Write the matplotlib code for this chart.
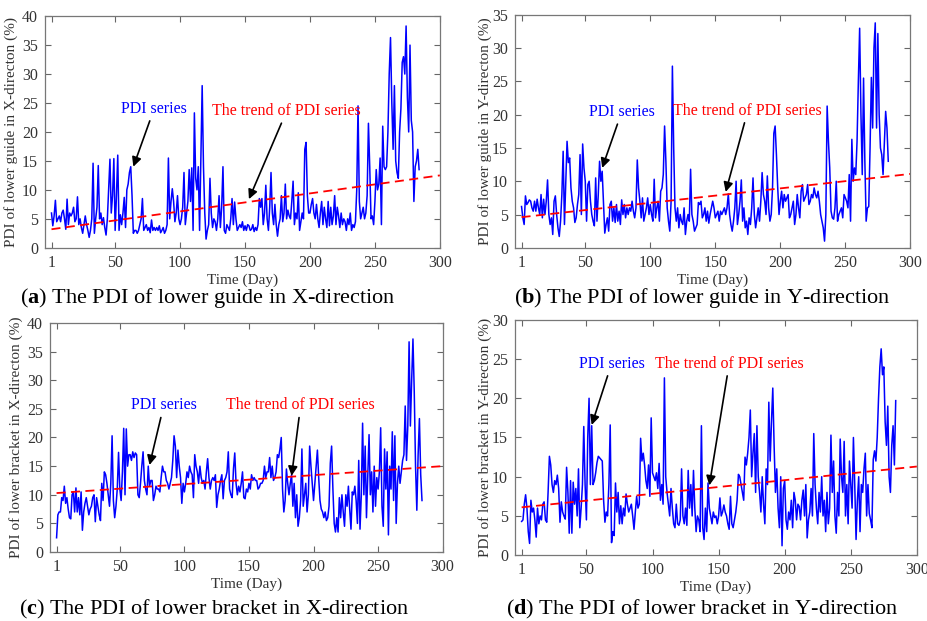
import matplotlib
matplotlib.use("Agg")
import matplotlib.pyplot as plt
import numpy as np

plt.rcParams['font.family'] = ['Liberation Serif', 'DejaVu Serif']
plt.rcParams['mathtext.fontset'] = 'custom'
plt.rcParams['mathtext.rm'] = 'Liberation Serif'
plt.rcParams['mathtext.bf'] = 'Liberation Serif:bold'

# PDI series, one value per day
pdi_guide_x = [
    6.0, 3.8, 5.5, 8.2, 4.5, 5.0, 5.5, 4.5, 6.0, 6.5, 5.0, 3.2, 8.4, 4.0, 6.0, 5.5, 6.0, 7.0, 4.5, 5.0,
    8.8, 4.0, 5.0, 3.5, 2.5, 4.0, 5.5, 4.0, 3.0, 1.8, 3.0, 5.0, 14.6, 2.5, 5.0, 7.0, 14.2, 5.0, 6.0, 4.0,
    5.2, 3.5, 2.2, 5.0, 10.0, 15.3, 6.0, 9.0, 15.4, 3.0, 9.0, 16.0, 3.0, 5.7, 4.0, 6.0, 8.7, 3.5, 10.0, 11.0,
    13.0, 14.0, 9.0, 2.5, 3.0, 3.0, 2.5, 3.0, 4.0, 5.0, 8.5, 3.0, 3.5, 4.0, 3.0, 3.5, 2.6, 4.8, 3.0, 3.5,
    3.0, 3.5, 3.0, 3.8, 2.6, 3.0, 3.5, 2.5, 3.0, 4.0, 15.5, 5.0, 8.0, 10.2, 8.0, 4.5, 6.0, 9.0, 5.0, 4.0,
    5.0, 7.0, 13.0, 4.0, 6.0, 8.0, 13.5, 8.0, 13.8, 3.0, 23.3, 12.0, 10.0, 14.0, 3.0, 15.0, 28.0, 14.0, 6.0, 1.5,
    3.0, 4.0, 12.0, 6.0, 3.5, 5.0, 4.5, 3.0, 5.0, 9.0, 3.5, 7.0, 14.0, 3.0, 2.5, 4.0, 3.5, 3.0, 5.0, 8.5,
    4.0, 7.9, 5.0, 3.0, 3.5, 4.0, 3.5, 4.5, 3.0, 3.8, 3.0, 4.0, 3.8, 3.0, 3.2, 4.0, 2.8, 3.5, 3.0, 4.0,
    8.5, 7.0, 8.5, 4.0, 6.0, 10.8, 5.0, 3.0, 7.0, 13.0, 6.0, 4.0, 7.5, 4.0, 2.0, 4.0, 5.0, 9.0, 4.5, 6.0,
    11.0, 5.0, 6.5, 5.5, 5.0, 8.0, 11.5, 4.0, 6.0, 5.0, 9.5, 3.0, 4.5, 6.0, 5.0, 17.0, 18.2, 9.0, 6.0, 6.0,
    7.5, 8.5, 6.0, 5.0, 7.5, 5.0, 3.5, 6.0, 8.0, 4.0, 7.0, 5.0, 3.5, 8.0, 3.8, 7.0, 4.0, 5.5, 9.0, 4.0,
    7.0, 5.5, 3.5, 6.0, 4.0, 5.0, 4.5, 3.0, 5.0, 4.0, 6.0, 3.0, 4.0, 3.5, 4.5, 10.0, 24.5, 8.0, 5.0, 6.0,
    7.0, 5.0, 6.0, 9.0, 21.5, 14.0, 5.0, 5.5, 4.0, 8.0, 13.5, 10.0, 11.0, 15.5, 4.0, 21.0, 14.0, 13.5, 14.0, 20.0,
    30.0, 36.3, 25.0, 17.0, 28.0, 15.0, 13.0, 12.0, 20.0, 24.0, 32.0, 33.0, 30.0, 38.3, 26.0, 20.0, 35.0, 22.0, 20.0, 8.0,
    14.0, 15.0, 17.0, 13.5,
]
pdi_guide_y = [
    6.2, 4.5, 3.5, 7.8, 6.5, 6.8, 7.2, 7.0, 6.0, 5.5, 7.0, 5.5, 7.3, 6.0, 5.0, 8.0, 4.5, 7.3, 5.0, 7.0,
    10.2, 5.0, 3.5, 4.5, 2.0, 7.0, 7.8, 5.0, 3.0, 1.7, 4.0, 8.0, 14.5, 3.5, 10.0, 16.0, 12.8, 13.5, 9.0, 7.0,
    6.0, 3.8, 4.5, 6.5, 8.0, 14.0, 5.0, 15.6, 12.0, 10.0, 4.0, 9.5, 10.0, 7.0, 5.0, 4.0, 3.3, 10.5, 4.0, 8.0,
    13.0, 10.0, 11.5, 7.0, 2.2, 3.5, 4.5, 2.5, 6.5, 7.0, 4.0, 6.0, 3.8, 6.5, 4.0, 5.5, 3.5, 7.2, 5.0, 6.5,
    4.5, 6.0, 5.0, 6.0, 5.5, 7.0, 5.5, 4.5, 6.0, 13.2, 9.0, 7.0, 4.5, 7.5, 4.0, 5.0, 6.0, 7.5, 5.0, 6.5,
    5.0, 4.0, 10.3, 4.5, 6.0, 7.0, 4.0, 8.5, 9.0, 11.0, 18.3, 13.0, 6.0, 4.0, 2.5, 7.0, 27.3, 15.0, 6.0, 4.0,
    6.0, 3.0, 5.0, 4.0, 3.5, 6.0, 2.0, 4.0, 5.0, 4.0, 11.8, 5.0, 4.0, 2.5, 3.0, 3.5, 6.8, 6.5, 7.0, 4.5,
    5.0, 6.0, 4.0, 5.5, 3.7, 5.0, 6.0, 7.0, 6.0, 4.5, 5.0, 5.5, 4.0, 5.5, 5.0, 5.5, 6.0, 5.0, 6.0, 8.1,
    5.0, 3.5, 2.5, 4.0, 6.0, 10.0, 3.5, 5.0, 7.0, 10.2, 4.0, 6.0, 3.0, 4.0, 2.0, 4.5, 3.5, 6.0, 10.5, 5.0,
    3.0, 4.5, 6.0, 4.0, 7.0, 11.3, 8.0, 7.0, 5.0, 10.8, 6.0, 4.0, 5.0, 9.0, 17.2, 18.3, 14.0, 9.0, 5.0, 7.0,
    8.5, 6.0, 8.0, 7.0, 7.5, 8.0, 4.5, 5.0, 6.0, 7.0, 3.5, 5.0, 8.0, 6.0, 4.5, 8.5, 9.5, 7.0, 7.5, 8.0,
    9.5, 6.5, 7.0, 8.0, 7.5, 9.0, 8.0, 7.5, 8.5, 7.0, 5.0, 4.0, 3.0, 1.0, 5.0, 21.3, 16.0, 12.0, 5.5, 4.5,
    4.3, 6.0, 10.0, 4.0, 5.0, 5.5, 6.0, 4.5, 8.0, 7.5, 7.0, 6.0, 11.0, 4.0, 16.3, 10.0, 12.0, 11.0, 16.0, 25.0,
    33.0, 20.0, 11.0, 25.5, 13.0, 4.0, 6.0, 6.2, 15.0, 25.6, 18.0, 30.0, 33.8, 18.0, 32.2, 20.0, 15.0, 14.0, 11.0, 15.7,
    20.5, 18.0, 13.0,
]
pdi_bracket_x = [
    2.5, 6.5, 7.0, 7.0, 9.5, 9.0, 11.5, 8.5, 9.5, 7.5, 6.0, 5.8, 10.0, 10.5, 7.0, 11.2, 7.0, 9.5, 6.5, 10.5,
    3.8, 7.0, 8.5, 9.5, 8.0, 6.5, 7.5, 8.0, 9.5, 10.0, 5.3, 9.5, 8.0, 6.5, 5.5, 12.0, 9.0, 14.0, 13.5, 12.0,
    10.0, 8.0, 12.0, 20.3, 9.0, 6.0, 8.0, 11.0, 17.4, 11.0, 9.0, 14.0, 21.6, 10.0, 21.5, 15.0, 17.0, 17.0, 16.0, 17.5,
    16.5, 17.3, 17.0, 10.0, 9.5, 12.0, 15.0, 17.5, 12.5, 11.0, 10.0, 15.0, 11.5, 12.5, 12.5, 9.0, 10.0, 11.5, 11.0, 11.0,
    10.5, 13.0, 15.0, 14.0, 14.0, 12.5, 12.0, 11.0, 12.0, 13.0, 16.0, 20.3, 18.5, 13.0, 17.8, 15.0, 13.0, 8.5, 12.0, 10.5,
    12.0, 14.0, 13.0, 15.0, 14.0, 13.5, 9.5, 17.0, 15.0, 14.0, 12.0, 15.0, 13.0, 12.0, 12.5, 11.0, 14.0, 16.3, 13.0, 11.0,
    12.5, 13.0, 12.5, 13.5, 7.8, 10.0, 11.0, 12.5, 13.5, 9.3, 12.5, 13.0, 14.0, 17.5, 11.0, 10.0, 9.5, 14.5, 17.3, 12.0,
    10.0, 11.5, 10.5, 12.0, 14.0, 9.5, 9.3, 11.0, 10.5, 12.0, 11.0, 13.5, 12.5, 13.0, 12.5, 12.5, 11.0, 11.3, 12.0, 12.0,
    12.5, 15.0, 13.0, 14.0, 14.0, 16.5, 13.0, 15.0, 12.5, 13.0, 14.0, 17.0, 16.5, 18.0, 20.0, 11.0, 7.0, 9.0, 14.5, 12.0,
    10.0, 12.0, 13.5, 8.0, 12.0, 6.0, 10.0, 4.5, 6.0, 9.0, 18.0, 8.0, 10.0, 12.0, 7.0, 10.0, 18.5, 15.0, 12.0, 9.0,
    12.0, 15.0, 17.8, 13.0, 9.0, 7.5, 7.0, 6.0, 7.0, 5.5, 6.0, 8.0, 15.5, 18.5, 11.0, 5.0, 3.5, 6.0, 3.5, 9.5,
    6.0, 10.0, 7.0, 4.5, 10.0, 8.0, 11.5, 7.5, 4.0, 10.5, 10.0, 11.5, 9.0, 5.0, 16.0, 4.0, 10.0, 22.5, 10.0, 18.5,
    6.0, 13.0, 20.5, 10.0, 14.0, 7.0, 15.0, 8.0, 13.0, 11.0, 14.0, 21.7, 8.0, 4.5, 18.0, 11.0, 17.5, 3.0, 15.0, 11.0,
    21.0, 9.0, 20.3, 5.0, 12.0, 15.0, 12.0, 14.0, 16.0, 17.0, 25.5, 16.0, 22.0, 36.7, 22.0, 30.0, 37.2, 28.0, 15.0, 7.3,
    17.0, 23.3, 13.5, 9.0,
]
pdi_bracket_y = [
    4.3, 4.5, 6.5, 7.7, 6.0, 3.0, 1.5, 7.0, 5.5, 6.0, 4.5, 2.3, 6.0, 4.0, 5.0, 4.5, 6.5, 6.8, 4.5, 4.2,
    8.0, 12.6, 11.5, 9.0, 8.0, 9.5, 9.0, 10.2, 8.5, 4.2, 6.8, 5.5, 5.0, 4.6, 11.2, 8.0, 2.8, 9.5, 2.8, 9.3,
    6.5, 8.5, 5.0, 11.0, 3.5, 6.0, 9.0, 16.4, 9.0, 4.5, 15.0, 20.0, 9.0, 16.5, 9.0, 9.5, 10.5, 11.8, 12.6, 12.4,
    12.2, 12.0, 7.0, 4.2, 5.5, 5.0, 9.0, 16.6, 1.6, 3.0, 2.5, 9.2, 5.5, 8.0, 4.0, 6.3, 4.0, 6.0, 5.0, 7.8,
    6.5, 5.5, 6.0, 6.5, 5.0, 3.3, 5.5, 7.5, 6.0, 6.5, 14.9, 12.0, 13.0, 11.5, 9.5, 8.5, 11.5, 7.5, 17.5, 10.5,
    10.0, 9.5, 10.5, 8.5, 11.7, 7.0, 9.0, 6.5, 22.6, 10.0, 8.0, 6.5, 5.0, 8.5, 6.0, 4.0, 3.5, 6.5, 4.0, 3.8,
    4.5, 11.0, 5.0, 4.0, 6.0, 3.8, 10.8, 6.0, 9.0, 5.0, 10.8, 6.0, 3.0, 5.0, 4.5, 3.0, 16.5, 3.5, 2.0, 6.0,
    3.0, 9.2, 6.0, 5.0, 4.0, 5.5, 4.8, 5.0, 4.0, 5.0, 7.3, 5.0, 5.5, 6.4, 5.5, 5.0, 4.0, 3.3, 7.5, 4.0,
    3.5, 4.5, 5.5, 7.0, 10.3, 10.0, 9.0, 8.0, 7.0, 12.5, 11.5, 13.0, 15.0, 18.5, 10.0, 13.0, 15.5, 8.0, 16.5, 10.0,
    8.0, 5.5, 10.0, 6.5, 4.0, 11.0, 9.0, 19.5, 12.0, 17.0, 21.3, 14.0, 8.0, 11.0, 6.0, 3.5, 10.0, 1.2, 8.5, 9.5,
    4.5, 3.3, 5.5, 4.5, 7.0, 3.5, 8.0, 7.0, 4.5, 6.5, 6.2, 4.5, 7.0, 8.3, 5.0, 9.0, 2.2, 4.5, 5.5, 8.5,
    5.0, 15.5, 9.0, 6.0, 4.0, 8.0, 5.5, 10.0, 5.0, 7.0, 3.0, 8.0, 4.0, 6.0, 15.3, 8.0, 12.0, 5.0, 2.8, 8.0,
    5.0, 14.8, 10.0, 8.0, 14.5, 5.0, 9.0, 4.0, 12.0, 9.0, 6.0, 15.0, 9.0, 2.0, 7.0, 10.0, 3.0, 9.0, 8.0, 11.0,
    13.0, 5.0, 9.0, 5.3, 4.5, 3.5, 12.2, 13.3, 12.0, 15.0, 20.0, 24.0, 26.3, 23.0, 24.0, 17.0, 14.0, 19.0, 10.0, 8.0,
    14.0, 16.5, 11.5, 19.7,
]

# fitted trend lines: value at day 1 and day 300
trend_days = [1, 300]
trend_guide_x = [3.2, 12.5]
trend_guide_y = [4.6, 11.1]
trend_bracket_x = [10.3, 15.0]
trend_bracket_y = [6.1, 11.3]

panels = [
    dict(series=pdi_guide_x, trend=trend_guide_x, ymax=40,
         ylabel="PDI of lower guide in X-directon (%)",
         caption=r"($\mathbf{a}$) The PDI of lower guide in X-direction",
         pdi_txt=(80, 24.0), pdi_tip=(64, 14.0),
         tr_txt=(182, 23.6), tr_tip=(153, 8.4),
         rect=[0.0485, 0.601, 0.4255, 0.373], ylab_x=-0.068, cap=(0.224, 0.520)),
    dict(series=pdi_guide_y, trend=trend_guide_y, ymax=35,
         ylabel="PDI of lower guide in Y-directon (%)",
         caption=r"($\mathbf{b}$) The PDI of lower guide in Y-direction",
         pdi_txt=(78, 20.4), pdi_tip=(63, 12.0),
         tr_txt=(175, 20.6), tr_tip=(158, 8.4),
         rect=[0.555, 0.601, 0.426, 0.375], ylab_x=-0.058, cap=(0.757, 0.520)),
    dict(series=pdi_bracket_x, trend=trend_bracket_x, ymax=40,
         ylabel="PDI of lower bracket in X-directon (%)",
         caption=r"($\mathbf{c}$) The PDI of lower bracket in X-direction",
         pdi_txt=(84, 25.6), pdi_tip=(73, 15.2),
         tr_txt=(190, 25.6), tr_tip=(183, 13.3),
         rect=[0.054, 0.111, 0.423, 0.369], ylab_x=-0.069, cap=(0.231, 0.019)),
    dict(series=pdi_bracket_y, trend=trend_bracket_y, ymax=30,
         ylabel="PDI of lower bracket in Y-directon (%)",
         caption=r"($\mathbf{d}$) The PDI of lower bracket in Y-direction",
         pdi_txt=(69, 24.4), pdi_tip=(54, 16.6),
         tr_txt=(158, 24.4), tr_tip=(143, 8.9),
         rect=[0.555, 0.106, 0.433, 0.379], ylab_x=-0.057, cap=(0.757, 0.019)),
]

fig = plt.figure(figsize=(9.28, 6.21), dpi=100)
txt_col = '#333333'

for p in panels:
    ax = fig.add_axes(p['rect'])
    days = np.arange(1, len(p['series']) + 1)
    ax.plot(days, p['series'], color='#0000ff', lw=1.1)
    ax.plot(trend_days, p['trend'], color='#ff0000', lw=1.3, ls=(0, (5, 3)))
    ax.set_xlim(-4, 300)
    ax.set_ylim(0, p['ymax'])
    ax.set_xticks([1, 50, 100, 150, 200, 250, 300])
    ax.set_yticks(np.arange(0, p['ymax'] + 1, 5))
    ax.tick_params(direction='in', top=True, right=True, length=4, width=0.8,
                   labelsize=11.5, colors=txt_col, color='#666666', pad=5)
    for s in ax.spines.values():
        s.set_color('#777777')
        s.set_linewidth(0.9)
    ax.set_xlabel("Time (Day)", fontsize=11, color=txt_col, labelpad=2)
    ax.set_ylabel(p['ylabel'], fontsize=11, color=txt_col)
    ax.yaxis.set_label_coords(p['ylab_x'], 0.5)

    ax.annotate("PDI series", xy=p['pdi_tip'], xytext=p['pdi_txt'],
                ha='center', va='center', fontsize=11.5, color='#0000ff',
                arrowprops=dict(arrowstyle='-|>', color='black', lw=1.2,
                                mutation_scale=14, shrinkA=1, shrinkB=0))
    ax.annotate("The trend of PDI series", xy=p['tr_tip'], xytext=p['tr_txt'],
                ha='center', va='center', fontsize=11.5, color='#ff0000',
                arrowprops=dict(arrowstyle='-|>', color='black', lw=1.2,
                                mutation_scale=14, shrinkA=1, shrinkB=0))

    fig.text(p['cap'][0], p['cap'][1], p['caption'], ha='center', va='center',
             fontsize=16, color='black')

fig.savefig("out.png", dpi=100)
